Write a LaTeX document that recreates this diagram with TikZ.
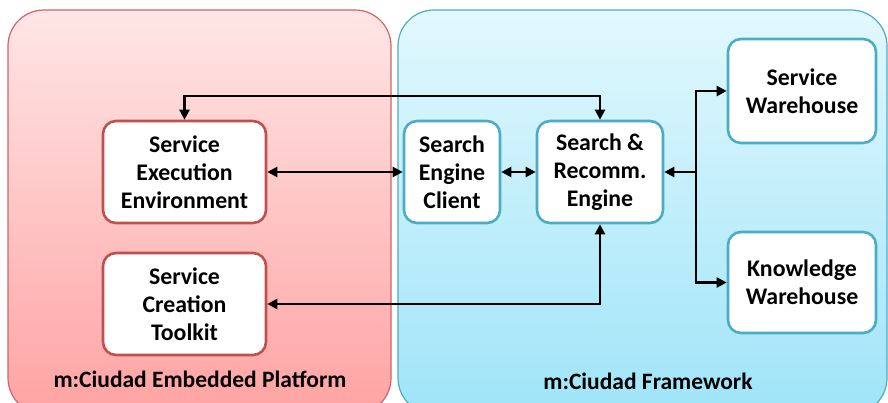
\documentclass[tikz,border=0pt]{standalone}
\usepackage{fontspec}
\setmainfont{Carlito}
\usetikzlibrary{arrows.meta, positioning}
\definecolor{pinkline}{HTML}{D0636A}
\definecolor{pinktop}{HTML}{FFE6E6}
\definecolor{pinkbot}{HTML}{FFA3A3}
\definecolor{blueline}{HTML}{4BACC6}
\definecolor{bluetop}{HTML}{E2F8FD}
\definecolor{bluebot}{HTML}{9FE4F9}
\definecolor{redbox}{HTML}{C0504D}
\tikzset{>={Triangle[length=10pt,width=10pt]}}
\tikzset{
  redbox/.style={draw=redbox, line width=2.6pt, fill=white, rounded corners=13pt,
    minimum width=163pt, minimum height=102pt, align=center,
    font=\fontsize{23.8}{28}\selectfont\bfseries},
  bluebox/.style={redbox, draw=blueline},
  panellabel/.style={font=\fontsize{23.5}{26}\selectfont\bfseries}
}

\begin{document}
\begin{tikzpicture}[x=1pt, y=-1pt, line width=2.3pt]

			\useasboundingbox (0,0) rectangle (888,403);
			\fill[white] (0,0) rectangle (888,403);

			% the two platforms
			\draw[pinkline, line width=1.2pt, rounded corners=36pt, top color=pinktop, bottom color=pinkbot] (8,10) rectangle (391,414);
			\draw[blueline, line width=1.2pt, rounded corners=36pt, top color=bluetop, bottom color=bluebot] (398,10) rectangle (887,414);

			\node[redbox] (see) at (184.5,172) {Service\\Execution\\Environment};
			\node[redbox] (sct) at (184.5,304) {Service\\Creation\\Toolkit};
			\node[bluebox, minimum width=96pt] (sec) at (452,172) {Search\\Engine\\Client};
			\node[bluebox, minimum width=126pt] (sre) at (600,172) {Search \&\\Recomm.\\Engine};
			\node[bluebox, minimum width=148pt, minimum height=104pt] (sw) at (802,91) {Service\\Warehouse};
			\node[bluebox, minimum width=148pt, minimum height=101pt] (kw) at (802,282.5) {Knowledge\\Warehouse};

			\node[panellabel] (epl) at (200,379) {m:Ciudad Embedded Platform};
			\node[panellabel] (fwl) at (648,381) {m:Ciudad Framework};

			\coordinate (jn) at (696,172);
			\draw [<->] (see.north) -- ++(0,-24) -| (sre.north);
			\draw [<->] (see) -- (sec);
			\draw [<->] (sec) -- (sre);
			\draw [<->] (sct.east) -| (sre.south);
			\draw [<-] (sre) -- (jn);
			\draw [->] (jn) |- (sw.west);
			\draw [->] (jn) |- (kw.west);

			\end{tikzpicture}
\end{document}
